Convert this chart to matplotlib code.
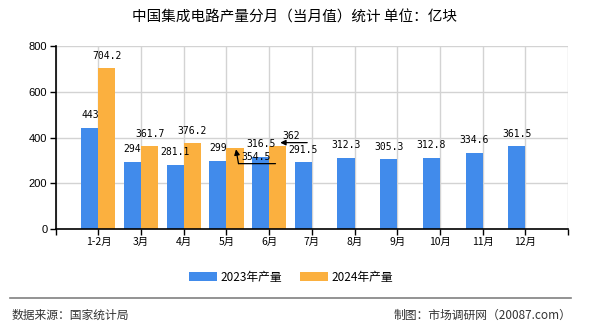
import numpy as np
import matplotlib
matplotlib.use("Agg")
import matplotlib.pyplot as plt
import matplotlib.transforms as mtransforms
from matplotlib.lines import Line2D
from matplotlib.patches import Patch

plt.rcParams['font.family'] = ['Liberation Sans', 'Noto Sans CJK SC', 'DejaVu Sans']

categories = ['1-2月', '3月', '4月', '5月', '6月', '7月', '8月', '9月', '10月', '11月', '12月']
prod_2023 = [443, 294, 281.1, 299, 316.5, 291.5, 312.3, 305.3, 312.8, 334.6, 361.5]
prod_2024 = [704.2, 361.7, 376.2, 354.5, 362]
label_2023 = ['443', '294', '281.1', '299', '316.5', '291.5', '312.3', '305.3', '312.8', '334.6', '361.5']
label_2024 = ['704.2', '361.7', '376.2', '354.5', '362']
series_names = ['2023年产量', '2024年产量']

BLUE = '#418BEB'
ORANGE = '#FBB03F'

fig = plt.figure(figsize=(5.9, 3.3), dpi=100)
ax = fig.add_axes([55.7 / 590, 1 - 229 / 330, (568 - 55.7) / 590, (229 - 46.3) / 330])

n = len(categories)
x23 = np.arange(n)
x24 = np.arange(len(prod_2024))
w = 0.4

ax.bar(x23 - w / 2, prod_2023, w, color=BLUE, zorder=2)
ax.bar(x24 + w / 2, prod_2024, w, color=ORANGE, zorder=2)

ax.set_xlim(-1, n)
ax.set_ylim(0, 800)
ax.set_yticks([0, 200, 400, 600, 800])
ax.set_xticks(np.arange(-1, n + 1))
ax.set_xticklabels([''] + categories + [''])
ax.tick_params(axis='x', length=4, width=1, labelsize=8, pad=2, color='black')
ax.tick_params(axis='y', length=4, width=1, labelsize=8, pad=2, color='black')
for lab in ax.get_xticklabels():
    lab.set_family(['Noto Sans CJK SC'])
    lab.set_fontsize(7.5)

ax.grid(True, color='#d3d3d3', linewidth=1, zorder=0)
ax.set_axisbelow(True)
for s in ['top', 'right']:
    ax.spines[s].set_visible(False)
for s in ['left', 'bottom']:
    ax.spines[s].set_color('black')
    ax.spines[s].set_linewidth(1.2)
    ax.spines[s].set_zorder(3)

mono = dict(family='DejaVu Sans Mono', fontsize=7, color='black')

def lab(x, v, s):
    ax.annotate(s, xy=(x, v), xytext=(0, 12.5), textcoords='offset pixels',
                ha='center', va='center', zorder=5, **mono)

for i, (v, s) in enumerate(zip(prod_2023, label_2023)):
    lab(x23[i] - w / 2, v, s)
for i, (v, s) in enumerate(zip(prod_2024, label_2024)):
    if i < 3:
        lab(x24[i] + w / 2, v, s)

def off(dx, dy):
    return mtransforms.offset_copy(ax.transData, fig=fig, x=dx, y=dy, units='dots')

# 5月 2024 label with underline and arrow
xi, v = x24[3] + w / 2, prod_2024[3]
ax.annotate(label_2024[3], xy=(xi, v), xytext=(21.5, -9), textcoords='offset pixels',
            ha='center', va='center', zorder=5, **mono)
ax.annotate('', xy=(xi, v), xycoords=off(1, -1.3), xytext=(xi, v), textcoords=off(3.5, -15.6),
            arrowprops=dict(arrowstyle='-|>', color='black', lw=0.9, mutation_scale=8,
                            shrinkA=0, shrinkB=0), zorder=5)
ax.annotate('', xy=(xi, v), xycoords=off(3.5, -15.6), xytext=(xi, v), textcoords=off(40.5, -15.6),
            arrowprops=dict(arrowstyle='-', color='black', lw=0.9, shrinkA=0, shrinkB=0), zorder=5)

# 6月 2024 label with underline arrow
xi, v = x24[4] + w / 2, prod_2024[4]
ax.annotate(label_2024[4], xy=(xi, v), xytext=(13.5, 10), textcoords='offset pixels',
            ha='center', va='center', zorder=5, **mono)
ax.annotate('', xy=(xi, v), xycoords=off(2.5, 3.7), xytext=(xi, v), textcoords=off(29.5, 3.7),
            arrowprops=dict(arrowstyle='-|>', color='black', lw=0.9, mutation_scale=8,
                            shrinkA=0, shrinkB=0), zorder=5)

# Title
fig.text(0.5, 1 - 18 / 330, '中国集成电路产量分月（当月值）统计 单位：亿块', ha='center', va='center',
         family=['Noto Sans CJK SC'], fontsize=10.5, color='black')

# Legend
handles = [Patch(facecolor=BLUE, edgecolor='none'), Patch(facecolor=ORANGE, edgecolor='none')]
leg = fig.legend(handles, series_names, loc='center', bbox_to_anchor=(291 / 590, 1 - 277 / 330),
                 ncol=2, frameon=False, fontsize=8.5, handlelength=2.4, handleheight=0.8,
                 handletextpad=0.3, columnspacing=1.5, prop={'family': ['Noto Sans CJK SC'], 'size': 8.5})

# Separator and footer
fig.add_artist(Line2D([10 / 590, 571 / 590], [1 - 298 / 330, 1 - 298 / 330], color='#808080', lw=1.2))
fig.text(12 / 590, 1 - 315 / 330, '数据来源：国家统计局', ha='left', va='center',
         family=['Noto Sans CJK SC'], fontsize=8.5, color='#333333')
fig.text(571 / 590, 1 - 315 / 330, '制图：市场调研网（20087.com）', ha='right', va='center',
         family=['Noto Sans CJK SC'], fontsize=8.5, color='#333333')

fig.savefig('out.png', dpi=100)
